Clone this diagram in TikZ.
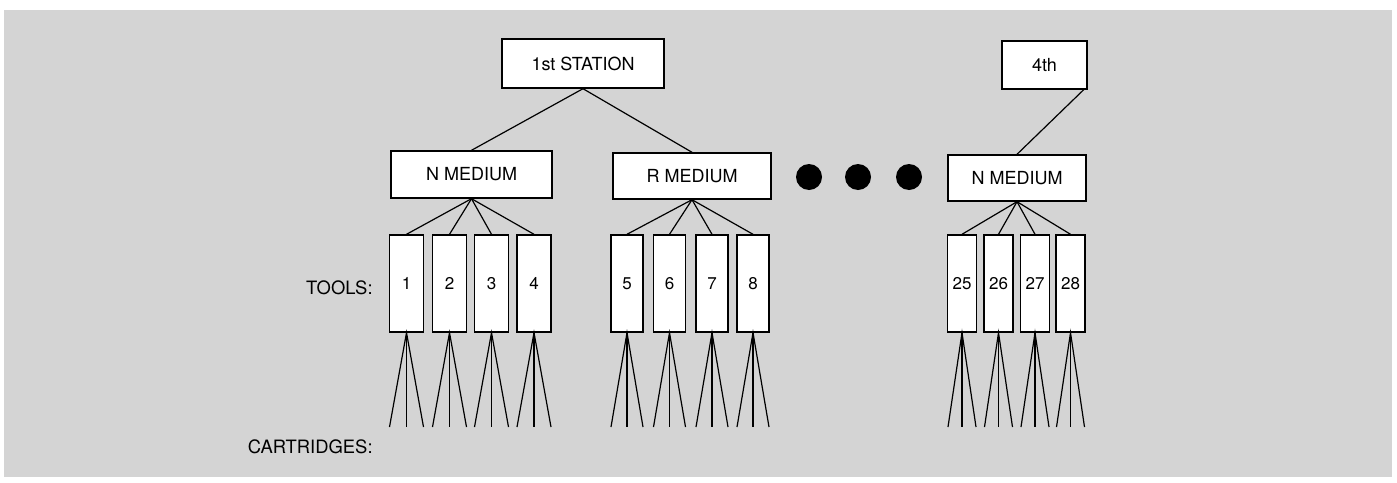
\documentclass[tikz,border=0pt]{standalone}
\usepackage{fontspec}
\setmainfont{TeX Gyre Heros}
\usepackage{tikz}
\definecolor{bggray}{RGB}{212,212,212}

\begin{document}
\begin{tikzpicture}[x=0.5pt,y=-0.5pt,
    box/.style={draw,fill=white,line width=0.7pt,inner sep=0pt,font=\fontsize{9}{10}\selectfont},
    toolbox/.style={box,minimum height=48.5pt,font=\fontsize{8.5}{10}\selectfont},
    lbl/.style={anchor=east,inner sep=0pt,font=\fontsize{9.2}{10}\selectfont},
    wire/.style={line width=0.6pt}]

\useasboundingbox (0,0) rectangle (1397,482);
\fill[white] (0,0) rectangle (1397,482);
\fill[bggray] (4,10) rectangle (1392,477);

    \node[box,minimum width=81pt,minimum height=24.5pt] (st1) at (583,63.5) {1st STATION};
    \node[box,minimum width=42.5pt,minimum height=24pt] (st4) at (1044.5,65) {4th};

    \node[box,minimum width=80.5pt,minimum height=23.5pt] (m1) at (471.5,174.5) {N MEDIUM};
    \node[box,minimum width=79pt,minimum height=23pt] (m2) at (692,176) {R MEDIUM};
    \node[box,minimum width=69pt,minimum height=23pt] (m3) at (1017,178) {N MEDIUM};

\draw[wire] (st1.south) -- (m1.north);
\draw[wire] (st1.south) -- (m2.north);
\draw[wire] ([xshift=-2pt]st4.south east) -- (m3.north);

\fill (809,177) circle[radius=13];
\fill (858,177) circle[radius=13];
\fill (909,177) circle[radius=13];

    \node[lbl] (tools) at (373,288) {TOOLS:};
    \node[lbl] (cart) at (373,447) {CARTRIDGES:};

% tools and their cartridges
\foreach \n/\x/\m/\w/\s in {1/406.5/m1/17/17, 2/449.5/m1/17/17, 3/491.5/m1/17/17, 4/534/m1/17/17,
    5/627/m2/16/16, 6/669.5/m2/16/16, 7/712/m2/16/16, 8/753/m2/16/16,
    25/962/m3/14.5/14, 26/998.5/m3/14.5/14, 27/1035/m3/14.5/14, 28/1070.5/m3/14.5/14}{
    \node[toolbox,minimum width=\w pt] (t\n) at (\x,283.5) {\n};
    \draw[wire] (\m.south) -- (t\n.north);
    \coordinate (c\n a) at (\x-\s,427);
    \coordinate (c\n b) at (\x,427);
    \coordinate (c\n c) at (\x+\s,427);
    \draw[wire] (c\n a) -- (t\n.south) -- (c\n c);
    \draw[wire] (t\n.south) -- (c\n b);
}
\end{tikzpicture}
\end{document}
